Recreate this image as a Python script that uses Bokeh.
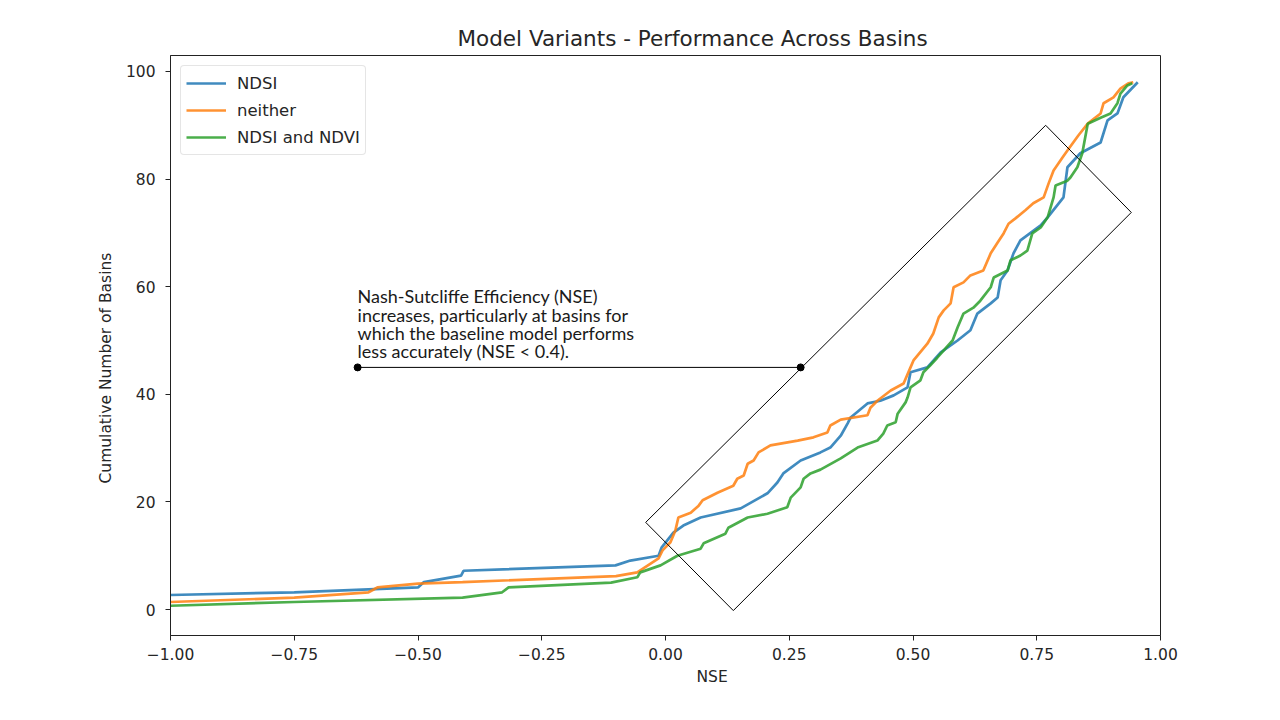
import math
from bokeh.plotting import figure
from bokeh.models import Range1d, FixedTicker, Label, Title
from bokeh.embed import file_html
from bokeh.resources import INLINE
from bokeh.core.properties import value

# ---------------- data ----------------
ndsi_x = [-1.0, -0.75, -0.5, -0.488, -0.413, -0.408, -0.101, -0.071, -0.014, -0.008,
          0.016, 0.036, 0.071, 0.152, 0.206, 0.226, 0.238, 0.273, 0.313, 0.333,
          0.354, 0.368, 0.374, 0.408, 0.434, 0.461, 0.489, 0.495, 0.529, 0.556,
          0.59, 0.616, 0.630, 0.657, 0.671, 0.677, 0.691, 0.703, 0.717, 0.758,
          0.772, 0.804, 0.812, 0.838, 0.879, 0.893, 0.913, 0.925, 0.954]
ndsi_y = [2.7, 3.2, 4.1, 5.1, 6.3, 7.2, 8.2, 9.1, 10.0, 11.5,
          14.3, 15.6, 17.1, 18.8, 21.6, 23.6, 25.3, 27.7, 29.2, 30.1,
          32.3, 34.6, 35.7, 38.3, 38.8, 39.8, 41.3, 44.1, 45.0, 47.8,
          50.0, 51.9, 55.0, 56.9, 58.0, 61.2, 63.0, 66.2, 68.6, 71.4,
          72.9, 76.6, 82.2, 84.8, 86.8, 90.9, 92.2, 95.2, 98.0]

neither_x = [-1.0, -0.75, -0.6, -0.582, -0.5, -0.41, -0.1, -0.057, -0.014, -0.006,
             0.01, 0.02, 0.026, 0.051, 0.067, 0.075, 0.105, 0.137, 0.145, 0.158,
             0.166, 0.178, 0.188, 0.212, 0.267, 0.299, 0.327, 0.333, 0.354, 0.408,
             0.414, 0.428, 0.455, 0.481, 0.495, 0.501, 0.529, 0.541, 0.552, 0.562,
             0.576, 0.582, 0.602, 0.616, 0.642, 0.657, 0.671, 0.683, 0.693, 0.707,
             0.727, 0.743, 0.764, 0.774, 0.784, 0.802, 0.812, 0.834, 0.853, 0.879,
             0.885, 0.905, 0.919, 0.935, 0.945]
neither_y = [1.4, 2.2, 3.2, 4.1, 4.8, 5.1, 6.2, 6.9, 9.5, 11.0,
             12.5, 14.7, 17.1, 18.0, 19.3, 20.3, 21.7, 23.0, 24.3, 24.9,
             27.1, 27.7, 29.2, 30.5, 31.4, 32.0, 32.9, 34.2, 35.3, 36.1,
             37.5, 38.8, 40.7, 42.0, 45.0, 46.3, 49.4, 51.3, 54.3, 55.6,
             56.9, 59.9, 60.8, 62.1, 63.0, 66.2, 68.2, 69.9, 71.7, 72.7,
             74.2, 75.5, 76.6, 79.2, 81.6, 84.0, 85.3, 88.1, 90.3, 92.2,
             94.1, 95.2, 96.8, 97.8, 98.0]

both_x = [-1.0, -0.75, -0.41, -0.33, -0.317, -0.11, -0.057, -0.051, -0.01, 0.024,
          0.071, 0.077, 0.121, 0.127, 0.166, 0.206, 0.246, 0.253, 0.273, 0.279,
          0.293, 0.313, 0.354, 0.388, 0.428, 0.440, 0.448, 0.465, 0.469, 0.485,
          0.489, 0.495, 0.515, 0.521, 0.535, 0.549, 0.58, 0.590, 0.602, 0.622,
          0.636, 0.657, 0.663, 0.691, 0.697, 0.717, 0.731, 0.741, 0.758, 0.772,
          0.784, 0.788, 0.812, 0.818, 0.832, 0.842, 0.853, 0.879, 0.899, 0.913,
          0.919, 0.933, 0.943]
both_y = [0.7, 1.4, 2.2, 3.2, 4.1, 5.0, 6.0, 6.9, 8.2, 10.0,
          11.3, 12.3, 14.1, 15.2, 17.1, 17.8, 19.0, 20.8, 22.7, 24.3,
          25.3, 26.0, 28.1, 30.1, 31.4, 32.7, 34.2, 34.8, 36.4, 38.5,
          39.4, 41.3, 42.6, 44.1, 45.4, 46.8, 50.0, 52.4, 55.0, 56.1,
          57.4, 59.9, 61.7, 63.0, 64.9, 65.8, 66.7, 69.9, 71.0, 72.9,
          76.6, 78.8, 79.7, 80.3, 82.2, 84.8, 90.3, 91.4, 92.2, 94.1,
          95.9, 97.4, 97.8]

series_names = ["NDSI", "neither", "NDSI and NDVI"]
series_colors = ["#1f77b4", "#ff7f0e", "#2ca02c"]

x_ticks = [-1.0, -0.75, -0.5, -0.25, 0.0, 0.25, 0.5, 0.75, 1.0]
x_tick_labels = ["\u22121.00", "\u22120.75", "\u22120.50", "\u22120.25", "0.00",
                 "0.25", "0.50", "0.75", "1.00"]
y_ticks = [0, 20, 40, 60, 80, 100]

title_text = "Model Variants - Performance Across Basins"
x_label_text = "NSE"
y_label_text = "Cumulative Number of Basins"

note_lines = ["Nash-Sutcliffe Efficiency (NSE)",
              "increases, particularly at basins for",
              "which the baseline model performs",
              "less accurately (NSE < 0.4)."]
note_baselines = [58.2, 54.8, 51.4, 48.0]
note_left = -0.622
pointer_x = [-0.622, 0.273]
pointer_y = [45.0, 45.0]
box_x = [-0.040, 0.137, 0.941, 0.768]
box_y = [16.2, -0.2, 73.8, 90.0]

TEXT = "#262626"

# ---------------- figure ----------------
p = figure(width=1264, height=704, output_backend="svg", toolbar_location=None,
           x_range=Range1d(-1.0, 1.0), y_range=Range1d(-4.83, 102.97),
           min_border_left=170, min_border_right=104,
           min_border_top=55, min_border_bottom=69,
           background_fill_color="white", border_fill_color="white")

p.title.text = title_text
p.title.align = "left"
p.title.offset = 287
p.title.text_font = "DejaVu Sans"
p.title.text_font_size = "21.5px"
p.title.text_font_style = "normal"
p.title.text_color = TEXT
p.title.standoff = 10

p.xgrid.visible = False
p.ygrid.visible = False
p.outline_line_color = "#222222"
p.outline_line_width = 1

for ax in (p.xaxis, p.yaxis):
    ax.axis_line_color = "#222222"
    ax.major_tick_line_color = "#222222"
    ax.major_tick_out = 5
    ax.major_tick_in = 0
    ax.minor_tick_line_color = None
    ax.major_label_text_font = "DejaVu Sans"
    ax.major_label_text_font_size = "15.5px"
    ax.major_label_text_color = TEXT

p.xaxis.ticker = FixedTicker(ticks=x_ticks)
p.xaxis.major_label_overrides = {t: l for t, l in zip(x_ticks, x_tick_labels)}
p.xaxis.major_label_standoff = 7
p.yaxis.ticker = FixedTicker(ticks=y_ticks)
p.yaxis.major_label_standoff = 10

# axis labels as offset titles
xlab = Title(text=x_label_text, align="left", offset=526, text_font="DejaVu Sans",
             text_font_size="15.5px", text_font_style="normal", text_color=TEXT,
             standoff=7)
p.add_layout(xlab, "below")
ylab = Title(text=y_label_text, align="left", offset=152, text_font="DejaVu Sans",
             text_font_size="15.5px", text_font_style="normal", text_color=TEXT,
             standoff=16)
p.add_layout(ylab, "left")

for xs, ys, name, col in zip([ndsi_x, neither_x, both_x], [ndsi_y, neither_y, both_y],
                             series_names, series_colors):
    p.line(xs, ys, line_color=col, line_width=2.7, line_alpha=0.85, legend_label=name)

# annotation box and pointer
p.patch(box_x, box_y, fill_color=None, line_color="black", line_width=1)
p.line(pointer_x, pointer_y, line_color="black", line_width=1)
p.scatter(pointer_x, pointer_y, size=7, color="black")

for txt, yb in zip(note_lines, note_baselines):
    p.add_layout(Label(x=note_left, y=yb, text=txt, text_font="Lato",
                       text_font_size="18px", text_color="#1a1a1a",
                       text_align="left", text_baseline="alphabetic"))

lg = p.legend[0]
lg.location = "top_left"
lg.margin = 10
lg.padding = 5
lg.spacing = 3
lg.glyph_width = 40
lg.glyph_height = 24
lg.label_height = 24
lg.label_standoff = 11
lg.label_text_font = "DejaVu Sans"
lg.label_text_font_size = "16.5px"
lg.label_text_color = TEXT
lg.border_line_color = "#cccccc"
lg.border_line_width = 1
lg.background_fill_alpha = 0.8
try:
    lg.border_radius = 4
except Exception:
    pass

open("out.html", "w").write(file_html(p, INLINE))
